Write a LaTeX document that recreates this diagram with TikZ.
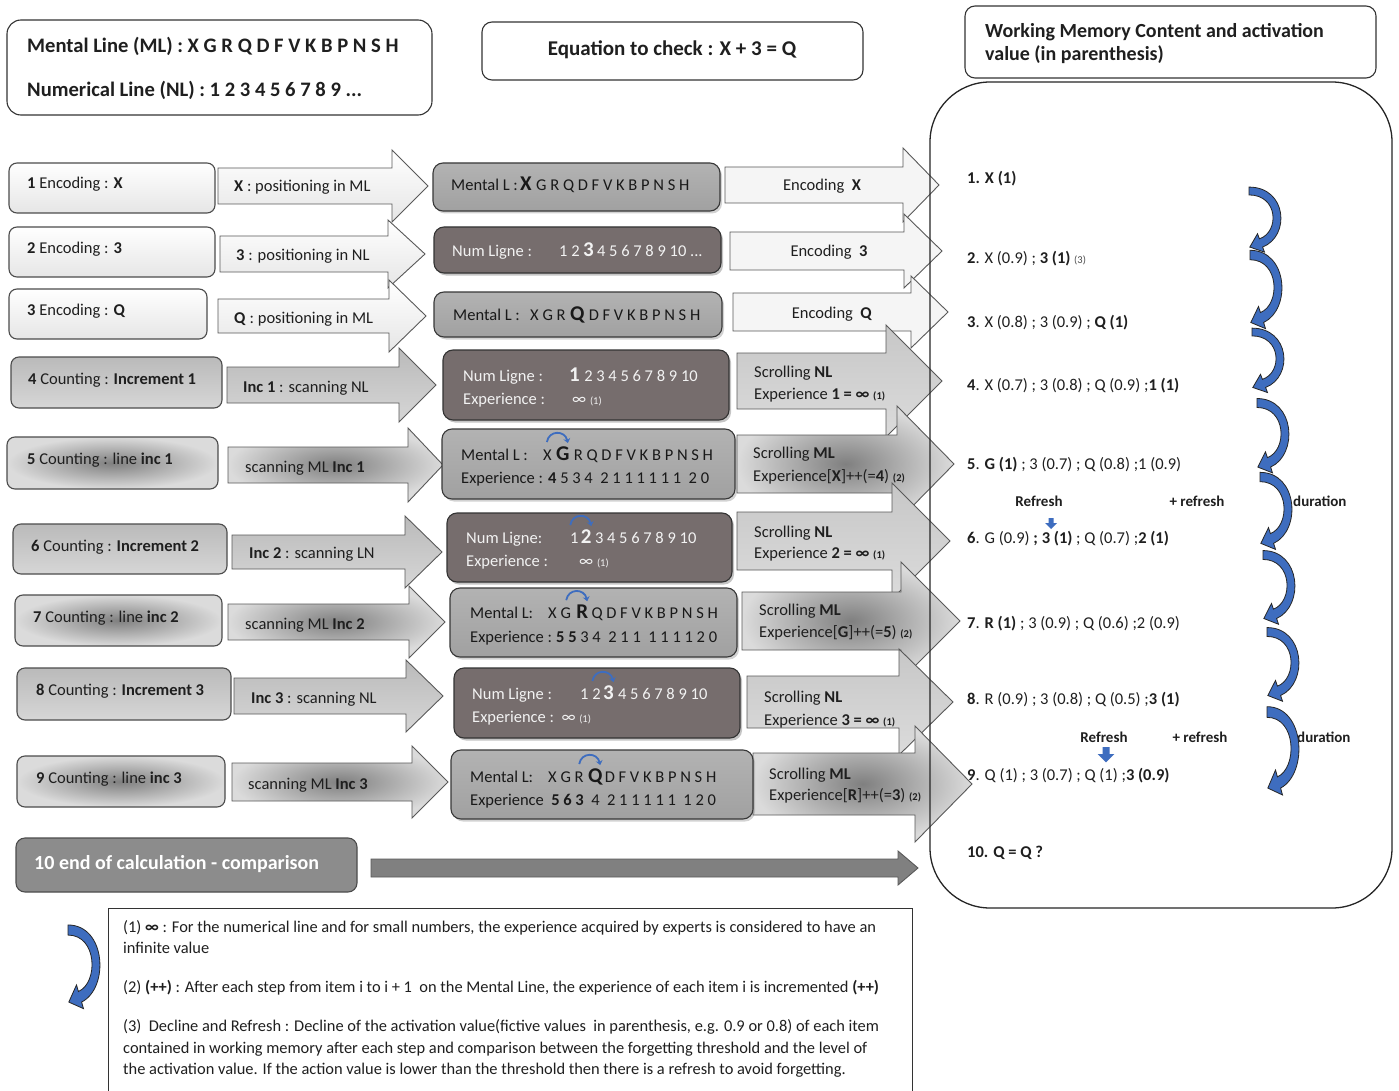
\documentclass[tikz,border=0pt]{standalone}
\usepackage{fontspec}
\setmainfont{Carlito}
\usetikzlibrary{calc,fit,shadows,arrows.meta}
\definecolor{cblue}{HTML}{3E6DBF}
\definecolor{numg}{HTML}{766D6D}
\definecolor{numtxt}{HTML}{F2F2F2}
\newcommand\fn{\fontsize{16.5}{19}\selectfont}
\newcommand\fbg{\fontsize{21}{24}\selectfont\bfseries}
\newcommand\fsm{\fontsize{10.5}{12}\selectfont}
\newcommand\fhd{\fontsize{20}{24}\selectfont\bfseries}
\newcommand\fml{\fontsize{20.6}{24}\selectfont\bfseries}
\newcommand\flg{\fontsize{16.4}{19}\selectfont}
\newcommand\blockarrow[7]{\path[#7] (#1,{#4-#5}) -- (#2,{#4-#5}) -- (#2,{#4-#6}) -- (#3,#4) -- (#2,{#4+#6}) -- (#2,{#4+#5}) -- (#1,{#4+#5}) -- cycle;}
\newcommand\scrollarc[1]{\draw[scrl] ($(#1.north)+(-16,-4)$) .. controls ($(#1.north)+(-14,-16)$) and ($(#1.north)+(2,-16)$) .. ($(#1.north)+(5,-3)$);}
\tikzset{
  curvarr/.pic={\path[fill=cblue, draw=black!85, line width=0.8pt] (0,-4) .. controls (38,-4) and (41.5,46) .. (13.6,57.2) -- (15.5,62.4) -- (0.8,57.2) -- (8.5,43.6) -- (10.4,48.8) .. controls (30.5,42) and (29.5,4) .. (0,4) -- cycle;},
  downarr/.pic={\path[fill=cblue] (-2.5,0) -- (2.5,0) -- (2.5,5) -- (6,5) -- (0,11) -- (-6,5) -- (-2.5,5) -- cycle;}
}
\begin{document}
\begin{tikzpicture}[x=1pt,y=-1pt,font=\fn,text=black!88,
  bx/.style={draw=black!70, line width=1.1pt, rounded corners=8pt, inner sep=0pt},
  lightf/.style={top color=white, bottom color=black!10},
  midf/.style={top color=black!27, bottom color=black!16},
  radf/.style={inner color=black!50, outer color=black!14},
  mlbox/.style={bx, draw=black!78, rounded corners=10pt, top color=black!30, bottom color=black!37, drop shadow={shadow xshift=2pt,shadow yshift=-2.5pt,opacity=.35}},
  numbox/.style={bx, draw=black!80, rounded corners=10pt, fill=numg, drop shadow={shadow xshift=2pt,shadow yshift=-2.5pt,opacity=.45}},
  t/.style={inner sep=0pt, anchor=base west},
  nt/.style={t, text=numtxt},
  big/.style={font=\fbg},
  arw/.style={draw=black!65, line width=0.9pt},
  scrl/.style={draw=cblue, line width=1.8pt, -{Stealth[length=4.5pt,width=7pt]}},
  hdr/.style={draw=black!80, line width=1.1pt, rounded corners=14pt, inner sep=0pt, fill=white},
  lab/.style={inner sep=0pt, anchor=base, font=\fontsize{15}{18}\selectfont\bfseries},
]
\useasboundingbox (0,0) rectangle (1399,1091);
\fill[white] (0,0) rectangle (1399,1091);

% ---------- header boxes
\node[hdr, fit={(7,20)(432,115)}] (ML) {};
\node[t, font=\fml] (MLa) at (27,53) {Mental Line (ML) : X G R Q D F V K B P N S H};
\node[t, font=\fml] (MLb) at (27,97) {Numerical Line (NL) : 1 2 3 4 5 6 7 8 9 ...};
\node[hdr, rounded corners=10pt, fit={(482,22)(863,80)}] (EQ) {};
\node[font=\fontsize{21}{24}\selectfont\bfseries, inner sep=0pt] (EQt) at (672,50) {Equation to check : X + 3 = Q};
\node[hdr, rounded corners=10pt, fit={(965,6)(1376,78)}] (WT) {};
\node[t, font=\fhd] (WTa) at (985,38) {Working Memory Content and activation};
\node[t, font=\fhd] (WTb) at (985,61) {value (in parenthesis)};

% ---------- left column boxes
\node[bx,lightf,fit={(9,163)(215,213)}] (L1) {};
\node[t] (L1t) at (27,189) {\textbf{1} Encoding : \textbf{X}};
\node[bx,lightf,fit={(9,227)(215,277)}] (L2) {};
\node[t] (L2t) at (27,254) {\textbf{2} Encoding : \textbf{3}};
\node[bx,lightf,fit={(9,289)(207,339)}] (L3) {};
\node[t] (L3t) at (27,315) {\textbf{3} Encoding : \textbf{Q}};
\node[bx,midf,fit={(11,357)(222,408)}] (L4) {};
\node[t] (L4t) at (28,384) {\textbf{4} Counting : \textbf{Increment 1}};
\node[bx,radf,fit={(7,437)(218,489)}] (L5) {};
\node[t] (L5t) at (27,464) {\textbf{5} Counting : line \textbf{inc 1}};
\node[bx,midf,fit={(13,524)(227,574)}] (L6) {};
\node[t] (L6t) at (31,551) {\textbf{6} Counting : \textbf{Increment 2}};
\node[bx,radf,fit={(15,595)(222,646)}] (L7) {};
\node[t] (L7t) at (33,622) {\textbf{7} Counting : line \textbf{inc 2}};
\node[bx,midf,fit={(17,668)(231,720)}] (L8) {};
\node[t] (L8t) at (36,695) {\textbf{8} Counting : \textbf{Increment 3}};
\node[bx,radf,fit={(17,756)(225,807)}] (L9) {};
\node[t] (L9t) at (36,783) {\textbf{9} Counting : line \textbf{inc 3}};
\node[bx,fill=black!45,rounded corners=9pt,fit={(16,838)(357,892)}] (L10) {};
\node[t, text=white, font=\fhd] (L10t) at (34,869) {10 end of calculation - comparison};

% ---------- second column arrows
\blockarrow{218}{392}{428}{186}{18}{36}{arw,lightf}
\node[t] (A1) at (234,192) {\textbf{X} : positioning in ML};
\blockarrow{220}{388}{425}{254}{18}{34}{arw,lightf}
\node[t] (A2) at (236,261) {\textbf{3} : positioning in NL};
\blockarrow{218}{389}{426}{316}{17}{36}{arw,lightf}
\node[t] (A3) at (234,323) {\textbf{Q} : positioning in ML};
\blockarrow{227}{399}{436}{385}{18}{37}{arw,midf}
\node[t] (A4) at (243,392) {\textbf{Inc 1} : scanning NL};
\blockarrow{228}{408}{443}{465}{18}{37}{arw,radf}
\node[t] (A5) at (245,472) {scanning ML \textbf{Inc 1}};
\blockarrow{232}{405}{442}{552}{17}{36}{arw,midf}
\node[t] (A6) at (249,558) {\textbf{Inc 2} : scanning LN};
\blockarrow{228}{409}{445}{622}{18}{36}{arw,radf}
\node[t] (A7) at (245,629) {scanning ML \textbf{Inc 2}};
\blockarrow{234}{406}{443}{696}{18}{36}{arw,midf}
\node[t] (A8) at (251,703) {\textbf{Inc 3} : scanning NL};
\blockarrow{232}{412}{448}{782}{19}{36}{arw,radf}
\node[t] (A9) at (248,789) {scanning ML \textbf{Inc 3}};
\blockarrow{371}{898}{918}{868}{9}{17}{arw,fill=black!50}

% ---------- fourth column arrows
\blockarrow{725}{903}{939}{185}{18}{37}{arw,fill=black!4}
\node[inner sep=0pt] (E1) at (822,186) {Encoding\ \ \textbf{X}};
\blockarrow{730}{904}{942}{251}{19}{37}{arw,fill=black!4}
\node[inner sep=0pt] (E2) at (829,252) {Encoding\ \ \textbf{3}};
\blockarrow{733}{911}{948}{312}{19}{36}{arw,fill=black!4}
\node[inner sep=0pt] (E3) at (832,314) {Encoding\ \ \textbf{Q}};
\blockarrow{737}{886}{942}{381}{28}{56}{arw,top color=black!22,bottom color=black!14}
\node[t] (E4a) at (754,377) {Scrolling \textbf{NL}};
\node[t] (E4b) at (754,399) {Experience \textbf{1 = ∞} {\fsm\bfseries (1)}};
\blockarrow{737}{897}{954}{464}{29}{58}{arw,radf}
\node[t] (E5a) at (753,458) {Scrolling \textbf{ML}};
\node[t] (E5b) at (753,481) {Experience[\textbf{X}]++(=\textbf{4}) {\fsm\bfseries (2)}};
\blockarrow{737}{892}{950}{541}{29}{58}{arw,top color=black!22,bottom color=black!14}
\node[t] (E6a) at (754,537) {Scrolling \textbf{NL}};
\node[t] (E6b) at (754,558) {Experience \textbf{2 = ∞} {\fsm\bfseries (1)}};
\blockarrow{742}{901}{960}{621}{29}{59}{arw,radf}
\node[t] (E7a) at (759,615) {Scrolling \textbf{ML}};
\node[t] (E7b) at (759,637) {Experience[\textbf{G}]++(=\textbf{5}) {\fsm\bfseries (2)}};
\blockarrow{747}{899}{953}{702}{26}{53}{arw,top color=black!22,bottom color=black!14}
\node[t] (E8a) at (764,702) {Scrolling \textbf{NL}};
\node[t] (E8b) at (764,725) {Experience \textbf{3 = ∞} {\fsm\bfseries (1)}};
\blockarrow{753}{915}{972}{784}{31}{58}{arw,radf}
\node[t] (E9a) at (769,779) {Scrolling \textbf{ML}};
\node[t] (E9b) at (769,800) {Experience[\textbf{R}]++(=\textbf{3}) {\fsm\bfseries (2)}};

% ---------- third column boxes
\begin{scope}[t/.append style={text=black!90}]
\node[mlbox, fit={(433,163)(720,211)}] (M1) {};
\node[t] (M1a) at (451,191) {Mental L :};
\node[t,big] (M1b) at (520,191) {X};
\node[t] (M1c) at ($(M1b.base east)+(4,0)$) {G R Q D F V K B P N S H};

\node[numbox, fit={(434,227)(721,273)}] (M2) {};
\node[nt] (M2a) at (452,257) {Num Ligne :};
\node[nt] (M2b) at (559,257) {1 2};
\node[nt,big] (M2c) at ($(M2b.base east)+(3,0)$) {3};
\node[nt] (M2d) at ($(M2c.base east)+(3,0)$) {4 5 6 7 8 9 10 ...};

\node[mlbox, fit={(434,292)(722,337)}] (M3) {};
\node[t] (M3a) at (453,320) {Mental L :};
\node[t] (M3b) at (530,320) {X G R};
\node[t,big] (M3c) at ($(M3b.base east)+(4,0)$) {Q};
\node[t] (M3d) at ($(M3c.base east)+(4,0)$) {D F V K B P N S H};

\node[numbox, fit={(443,350)(729,420)}] (M4) {};
\node[nt] (M4a) at (463,381) {Num Ligne :};
\node[nt,big] (M4b) at (569,381) {1};
\node[nt] (M4c) at ($(M4b.base east)+(4,0)$) {2 3 4 5 6 7 8 9 10};
\node[nt] (M4d) at (463,404) {Experience :};
\node[nt] (M4e) at (572,404) {∞ {\fsm(1)}};

\node[mlbox, fit={(442,429)(735,499)}] (M5) {};
\node[t] (M5a) at (461,460) {Mental L :};
\node[t] (M5b) at (543,460) {X};
\node[t,big] (M5c) at ($(M5b.base east)+(4,0)$) {G};
\node[t] (M5d) at ($(M5c.base east)+(4,0)$) {R Q D F V K B P N S H};
\node[t] (M5e) at (461,483) {Experience :};
\node[t] (M5f) at (548,483) {\textbf{4} 5 3 4\ \ 2 1 1 1 1 1 1\ \ 2 0};
\scrollarc{M5c}

\node[numbox, fit={(447,513)(732,582)}] (M6) {};
\node[nt] (M6a) at (466,543) {Num Ligne:};
\node[nt] (M6b) at (570,543) {1};
\node[nt,big] (M6c) at ($(M6b.base east)+(2,0)$) {2};
\node[nt] (M6d) at ($(M6c.base east)+(3,0)$) {3 4 5 6 7 8 9 10};
\node[nt] (M6e) at (466,566) {Experience :};
\node[nt] (M6f) at (579,566) {∞ {\fsm(1)}};
\scrollarc{M6c}

\node[mlbox, fit={(450,588)(737,657)}] (M7) {};
\node[t] (M7a) at (470,618) {Mental L:};
\node[t] (M7b) at (548,618) {X G};
\node[t,big] (M7c) at ($(M7b.base east)+(5,0)$) {R};
\node[t] (M7d) at ($(M7c.base east)+(3,0)$) {Q D F V K B P N S H};
\node[t] (M7e) at (470,642) {Experience :};
\node[t] (M7f) at (556,642) {\textbf{5 5} 3 4\ \ 2 1 1\ \ 1 1 1 1 2 0};
\scrollarc{M7c}

\node[numbox, fit={(454,668)(740,738)}] (M8) {};
\node[nt] (M8a) at (472,699) {Num Ligne :};
\node[nt] (M8b) at (580,699) {1 2};
\node[nt,big] (M8c) at ($(M8b.base east)+(2,0)$) {3};
\node[nt] (M8d) at ($(M8c.base east)+(4,0)$) {4 5 6 7 8 9 10};
\node[nt] (M8e) at (472,722) {Experience :\ \ ∞ {\fsm(1)}};
\scrollarc{M8c}

\node[mlbox, fit={(451,750)(753,819)}] (M9) {};
\node[t] (M9a) at (470,782) {Mental L:};
\node[t] (M9b) at (548,782) {X G R};
\node[t,big] (M9c) at ($(M9b.base east)+(4,0)$) {Q};
\node[t] (M9d) at ($(M9c.base east)+(2,0)$) {D F V K B P N S H};
\node[t] (M9e) at (470,805) {Experience};
\node[t] (M9f) at ($(M9e.base east)+(7,0)$) {\textbf{5 6 3}\ \ 4\ \ 2 1 1 1 1 1\ \ 1 2 0};
\scrollarc{M9c}
\end{scope}

% ---------- working memory container
\node[draw=black!85, line width=1.3pt, rounded corners=60pt, inner sep=0pt, fit={(930,82)(1392,908)}] (WM) {};

\node[t] (R1) at (967,184) {\textbf{1. X (1)}};
\node[t] (R2) at (967,263) {\textbf{2}. X (0.9) ; \textbf{3 (1)} {\fsm\color{black!70}(3)}};
\node[t] (R3) at (967,327) {\textbf{3}. X (0.8) ; 3 (0.9) ; \textbf{Q (1)}};
\node[t] (R4) at (967,390) {\textbf{4}. X (0.7) ; 3 (0.8) ; Q (0.9) ;\textbf{1 (1)}};
\node[t] (R5) at (967,469) {\textbf{5}. \textbf{G (1)} ; 3 (0.7) ; Q (0.8) ;1 (0.9)};
\node[lab] (RF1) at (1039,506) {Refresh};
\node[lab] (PR1) at (1197,506) {+ refresh};
\node[lab, anchor=base west] (DU1) at (1293,506) {duration};
\pic at (1051,518) {downarr};
\node[t] (R6) at (967,543) {\textbf{6}. G (0.9) \textbf{; 3 (1)} ; Q (0.7) ;\textbf{2 (1)}};
\node[t] (R7) at (967,628) {\textbf{7}. \textbf{R (1)} ; 3 (0.9) ; Q (0.6) ;2 (0.9)};
\node[t] (R8) at (967,704) {\textbf{8}. R (0.9) ; 3 (0.8) ; Q (0.5) ;\textbf{3 (1)}};
\node[lab] (RF2) at (1104,742) {Refresh};
\node[lab] (PR2) at (1200,742) {+ refresh};
\node[lab, anchor=base west] (DU2) at (1297,742) {duration};
\pic[scale=1.4] at (1106,747) {downarr};
\node[t] (R9) at (967,780) {\textbf{9}. Q (1) ; 3 (0.7) ; Q (1) ;\textbf{3 (0.9)}};
\node[t] (R10) at (967,857) {\textbf{10. Q = Q ?}};

% curved duration arrows
\pic[yscale=0.98] at (1249,191) {curvarr};
\pic[yscale=1.18] at (1250,255) {curvarr};
\pic[yscale=0.97] at (1252,332) {curvarr};
\pic[yscale=1.12] at (1257,403) {curvarr};
\pic[yscale=1.16] at (1260,477) {curvarr};
\pic[yscale=1.11] at (1263,555) {curvarr};
\pic[yscale=1.11] at (1267,632) {curvarr};
\pic[yscale=1.33] at (1267,712) {curvarr};

% ---------- legend
\pic[yscale=1.26] at (68,930) {curvarr};
\node[draw=black!80, line width=1pt, inner sep=0pt, fit={(108,908)(912,1100)}] (LG) {};
\begin{scope}[t/.append style={font=\flg}]
\node[t] (G1) at (123,932) {(1) \textbf{∞} : For the numerical line and for small numbers, the experience acquired by experts is considered to have an};
\node[t] (G2) at (123,953) {infinite value};
\node[t] (G3) at (123,992) {(2) \textbf{(++)} : After each step from item i to i + 1\ \ on the Mental Line, the experience of each item i is incremented \textbf{(++)}};
\node[t] (G4) at (123,1031) {(3)\ \ Decline and Refresh : Decline of the activation value(fictive values\ \ in parenthesis, e.g. 0.9 or 0.8) of each item};
\node[t] (G5) at (123,1053) {contained in working memory after each step and comparison between the forgetting threshold and the level of};
\node[t] (G6) at (123,1074) {the activation value. If the action value is lower than the threshold then there is a refresh to avoid forgetting.};
\end{scope}
\end{tikzpicture}
\end{document}
